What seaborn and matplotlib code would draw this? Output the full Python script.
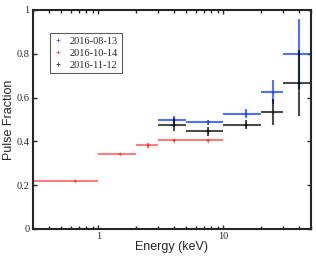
import numpy as np
import pandas as pd
import matplotlib
matplotlib.use("Agg")
import matplotlib.pyplot as plt
import seaborn as sns

# Data
dates = ["2016-08-13", "2016-10-14", "2016-11-12"]

e_lo_0813 = [3, 5, 10, 20, 30]
e_hi_0813 = [5, 10, 20, 30, 50]
e_c_0813 = [4, 7.5, 15, 25, 40]
pf_0813 = [0.497, 0.486, 0.526, 0.625, 0.798]
pf_err_0813 = [0.02, 0.01, 0.02, 0.053, 0.16]

e_lo_1014 = [0.3, 1, 2, 3, 5]
e_hi_1014 = [1, 2, 3, 5, 10]
e_c_1014 = [0.65, 1.5, 2.5, 4, 7.5]
pf_1014 = [0.220, 0.343, 0.381, 0.404, 0.404]
pf_err_1014 = [0.005, 0.004, 0.01, 0.007, 0.007]

e_lo_1112 = [3, 5, 10, 20, 30]
e_hi_1112 = [5, 10, 20, 30, 50]
e_c_1112 = [4, 7.5, 15, 25, 40]
pf_1112 = [0.476, 0.445, 0.476, 0.535, 0.666]
pf_err_1112 = [0.03, 0.02, 0.02, 0.06, 0.15]

frames = []
for d, lo, hi, c, v, e in [
    (dates[0], e_lo_0813, e_hi_0813, e_c_0813, pf_0813, pf_err_0813),
    (dates[1], e_lo_1014, e_hi_1014, e_c_1014, pf_1014, pf_err_1014),
    (dates[2], e_lo_1112, e_hi_1112, e_c_1112, pf_1112, pf_err_1112),
]:
    frames.append(pd.DataFrame({"date": d, "lo": lo, "hi": hi, "E": c, "PF": v, "err": e}))
df = pd.concat(frames, ignore_index=True)

sns.set_style("ticks")
plt.rcParams["font.family"] = ["Liberation Serif", "DejaVu Serif"]

colors = {"2016-08-13": (0.1, 0.25, 1.0, 0.75),
          "2016-10-14": (1.0, 0.15, 0.15, 0.6),
          "2016-11-12": (0.0, 0.0, 0.0, 0.7)}

fig = plt.figure(figsize=(3.16, 2.56), dpi=100)
ax = fig.add_axes([0.104, 0.106, 0.880, 0.855])

for d in dates:
    sub = df[df["date"] == d]
    xerr = [sub["E"] - sub["lo"], sub["hi"] - sub["E"]]
    ax.errorbar(sub["E"], sub["PF"], xerr=xerr, yerr=sub["err"], fmt="none",
                ecolor=colors[d], elinewidth=1.5, capsize=0)

sns.scatterplot(data=df, x="E", y="PF", hue="date", hue_order=dates,
                palette={d: colors[d][:3] for d in dates}, marker="+", s=10,
                linewidth=0.6, alpha=0.6, ax=ax, legend=True)

ax.set_xscale("log")
ax.set_xlim(0.3, 50)
ax.set_ylim(0, 1)
ax.set_yticks([0, 0.2, 0.4, 0.6, 0.8, 1])
ax.set_yticklabels(["0", "0.2", "0.4", "0.6", "0.8", "1"])
ax.set_xticks([1, 10])
ax.set_xticklabels(["1", "10"])
ax.tick_params(which="both", direction="in", top=True, right=True, labelsize=7.5, width=1, pad=2.5)
ax.tick_params(which="major", length=3)
ax.tick_params(which="minor", length=2)
for s in ax.spines.values():
    s.set_linewidth(1.5)

ax.set_xlabel("Energy (keV)", family=["Liberation Sans", "DejaVu Sans"], fontsize=9, labelpad=0)
ax.set_ylabel("Pulse Fraction", family=["Liberation Sans", "DejaVu Sans"], fontsize=9, labelpad=1)

leg = ax.legend(loc="upper left", bbox_to_anchor=(0.06, 0.895), fontsize=7.5,
                frameon=True, fancybox=False, edgecolor="#333333",
                handlelength=0.9, handletextpad=0.7, borderpad=0.35,
                labelspacing=0.25, borderaxespad=0)
leg.get_frame().set_linewidth(0.8)
for h in leg.legend_handles:
    h.set_alpha(0.8)

fig.savefig("out.png", dpi=100)
